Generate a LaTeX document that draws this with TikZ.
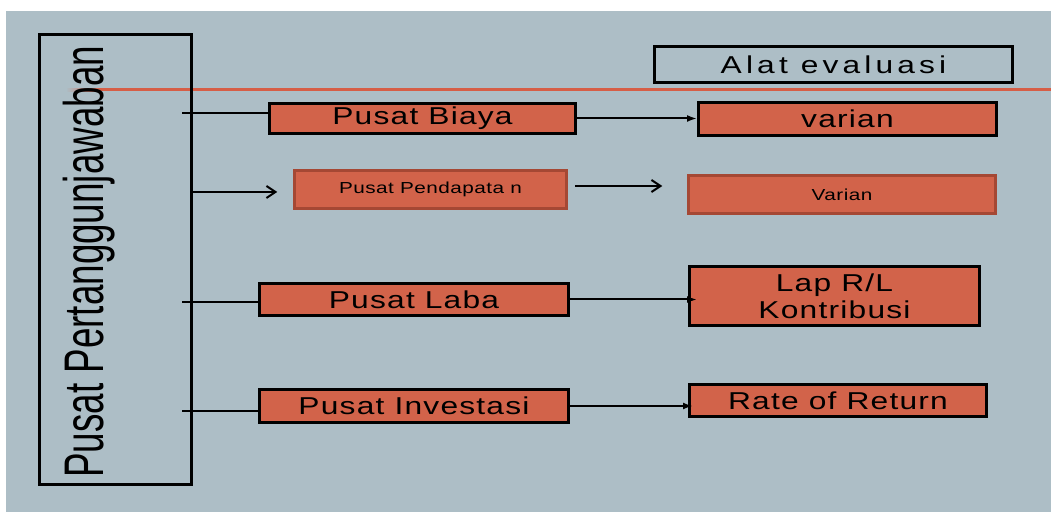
\documentclass[tikz,border=0pt]{standalone}
\usepackage{fontspec}
\setmainfont{Liberation Sans}
\newfontfamily\spacedfont[FakeStretch=1.3, LetterSpace=5]{Liberation Sans}
\newfontfamily\alatfont[FakeStretch=1.3, LetterSpace=17]{Liberation Sans}
\newfontfamily\smallfont[FakeStretch=1.3, LetterSpace=3]{Liberation Sans}
\newfontfamily\narrowfont[FakeStretch=0.66]{Liberation Sans}
\usepackage{tikz}
\usetikzlibrary{arrows.meta, positioning}
\definecolor{bgblue}{RGB}{173,190,198}
\definecolor{boxorange}{RGB}{210,99,74}
\definecolor{ruleorange}{RGB}{214,94,70}
\definecolor{boxedge}{RGB}{165,72,52}
\tikzset{
  orangebox/.style={rectangle, draw=black, fill=boxorange, line width=3bp,
    inner sep=0pt, font=\spacedfont\fontsize{24.5}{27}\selectfont},
  softbox/.style={rectangle, draw=boxedge, fill=boxorange, line width=2.5bp,
    inner sep=0pt, font=\smallfont\fontsize{16}{19}\selectfont},
  evalbox/.style={rectangle, draw=black, line width=3bp,
    inner sep=0pt, font=\alatfont\fontsize{24.5}{27}\selectfont},
  stub/.style={line width=2bp, color=black},
  fillarrow/.style={-{Latex[length=10bp,width=7bp]}, line width=2bp, color=black},
  openarrow/.style={-{Straight Barb[length=9bp,width=12bp]}, line width=2bp, color=black}
}
\begin{document}
\begin{tikzpicture}[x=1bp, y=-1bp]
  \useasboundingbox (0,0) rectangle (1051,512);
  % ── Background ─────────────────────────────────────────────────────
  \fill[white]  (0,0)  rectangle (1051,512);
  \fill[bgblue] (6,11) rectangle (1051,512);

  % ── Orange rule ────────────────────────────────────────────────────
  \shade[left color=bgblue, right color=ruleorange] (66,88.5) rectangle (100,91.5);
  \draw[ruleorange, line width=3bp] (100,90) -- (1051,90);

  % ── Responsibility centre column ──────────────────────────────────
  \node[evalbox, minimum width=152bp, minimum height=450bp] (pusat) at (115.5,259.5) {};
  \node[rotate=90, anchor=base west, inner sep=0pt,
        font=\narrowfont\fontsize{56}{60}\selectfont] (judul) at (103.5,478) {Pusat Pertanggunjawaban};

  % ── Header ────────────────────────────────────────────────────────
  \node[evalbox, minimum width=358bp, minimum height=36bp] (alat) at (833.5,64.5) {Alat evaluasi};

  % ── Centres ───────────────────────────────────────────────────────
  \node[orangebox, minimum width=306bp, minimum height=30bp] (biaya)      at (422.5,118.5) {Pusat Biaya};
  \node[softbox,   minimum width=272bp, minimum height=38bp] (pendapatan) at (430.5,189.5) {Pusat Pendapata n};
  \node[orangebox, minimum width=309bp, minimum height=32bp] (laba)       at (414,299.5)   {Pusat Laba};
  \node[orangebox, minimum width=309bp, minimum height=33bp] (investasi)  at (414,406)     {Pusat Investasi};

  % ── Evaluation tools ──────────────────────────────────────────────
  \node[orangebox, minimum width=298bp, minimum height=33bp] (varian)  at (847.5,119)   {varian};
  \node[softbox,   minimum width=307bp, minimum height=38bp] (varianb) at (842,194.5)   {Varian};
  \node[orangebox, minimum width=290bp, minimum height=59bp, align=center] (lap) at (834.5,296) {Lap R/L\\Kontribusi};
  \node[orangebox, minimum width=297bp, minimum height=32bp] (rate)    at (838,400.5)   {Rate of Return};

  % ── Stubs from the column ─────────────────────────────────────────
  \coordinate (s1) at (182,113);
  \coordinate (s2) at (193,192);
  \coordinate (s3) at (182,302);
  \coordinate (s4) at (182,411);
  \draw[stub] (s1) -- (s1 -| biaya.west);
  \draw[openarrow, shorten >=16bp] (s2) -- (s2 -| pendapatan.west);
  \draw[stub] (s3) -- (s3 -| laba.west);
  \draw[stub] (s4) -- (s4 -| investasi.west);

  % ── Centre to tool ────────────────────────────────────────────────
  \coordinate (p2) at (575,186);
  \draw[fillarrow] (biaya.east) -- (biaya.east -| varian.west);
  \draw[openarrow, shorten >=25bp] (p2) -- (p2 -| varianb.west);
  \draw[fillarrow, shorten >=-9bp] (laba.east) -- (laba.east -| lap.west);
  \draw[fillarrow, shorten >=-5bp] (investasi.east) -- (investasi.east -| rate.west);
\end{tikzpicture}
\end{document}
